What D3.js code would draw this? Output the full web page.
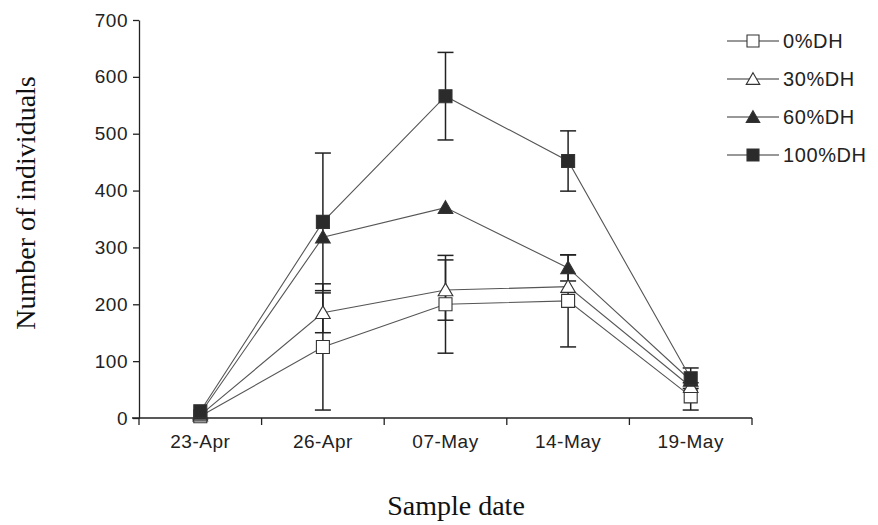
<!DOCTYPE html>
<html>
<head>
<meta charset="utf-8">
<script src="https://cdn.jsdelivr.net/npm/d3@7"></script>
<style>
  body { margin: 0; background: #fff; }
  svg { display: block; }
</style>
</head>
<body>
<div id="chart"></div>
<script>
// sample dates and values
const dates = ["23-Apr", "26-Apr", "07-May", "14-May", "19-May"];
const yTicks = [0, 100, 200, 300, 400, 500, 600, 700];
const seriesNames = ["0%DH", "30%DH", "60%DH", "100%DH"];

const dh0   = [3, 125, 200, 206, 38];
const dh30  = [5, 185, 225, 231, 55];
const dh60  = [8, 318, 370, 264, 66];
const dh100 = [12, 345, 566, 452, 70];

// error bar half-widths (0 = none visible)
const err0   = [0, 111, 86, 81, 24];
const err30  = [0, 35, 53, 0, 0];
const err60  = [0, 0, 0, 23, 0];
const err100 = [0, 121, 77, 53, 18];

const W = 878, H = 525;
const margin = {top: 20, right: 126, bottom: 107, left: 139};
const width = W - margin.left - margin.right,
      height = H - margin.top - margin.bottom;

const svg = d3.select("#chart")
  .append("svg")
    .attr("width", W)
    .attr("height", H)
  .append("g")
    .attr("transform", `translate(${margin.left},${margin.top})`);

const x = d3.scaleBand()
  .domain(dates)
  .range([0, width]);

const y = d3.scaleLinear()
  .domain([0, 700])
  .range([height, 0]);

const cx = d => x(d) + x.bandwidth() / 2;

// axes
const xAxis = svg.append("g")
  .attr("transform", `translate(0,${height})`)
  .call(d3.axisBottom(x).tickSize(0).tickPadding(17));
xAxis.select(".domain").remove();
xAxis.append("line")
  .attr("x1", -7).attr("x2", width)
  .attr("stroke", "#222").attr("stroke-width", 1.3);
// tick marks sit on the band boundaries
xAxis.selectAll(".bnd")
  .data(d3.range(dates.length + 1))
  .join("line")
    .attr("x1", i => i * x.step()).attr("x2", i => i * x.step())
    .attr("y1", 0).attr("y2", 7)
    .attr("stroke", "#222").attr("stroke-width", 1.3);

const yAxis = svg.append("g")
  .call(d3.axisLeft(y).tickValues(yTicks).tickSize(6).tickPadding(5).tickSizeOuter(0));
yAxis.select(".domain").attr("stroke", "#222").attr("stroke-width", 1.3);
yAxis.selectAll(".tick line").attr("stroke", "#222").attr("stroke-width", 1.3);

svg.selectAll(".tick text")
  .attr("fill", "#222")
  .style("font-family", "Liberation Sans, Arial, sans-serif")
  .style("font-size", "19px")
  .style("letter-spacing", "0.5px");

// axis titles
svg.append("text")
  .attr("x", 456 - margin.left)
  .attr("y", 515 - margin.top)
  .attr("text-anchor", "middle")
  .style("font-family", "Liberation Serif, Times New Roman, serif")
  .style("font-size", "28px")
  .attr("fill", "#111")
  .text("Sample date");

svg.append("text")
  .attr("transform", `translate(${35 - margin.left},${203 - margin.top}) rotate(-90)`)
  .attr("text-anchor", "middle")
  .style("font-family", "Liberation Serif, Times New Roman, serif")
  .style("font-size", "28px")
  .attr("fill", "#111")
  .text("Number of individuals");

const series = [
  {name: seriesNames[0], values: dh0,   err: err0,   shape: "square",   fill: "#fff"},
  {name: seriesNames[1], values: dh30,  err: err30,  shape: "triangle", fill: "#fff"},
  {name: seriesNames[2], values: dh60,  err: err60,  shape: "triangle", fill: "#2b2b2b"},
  {name: seriesNames[3], values: dh100, err: err100, shape: "square",   fill: "#2b2b2b"}
];

// error bars
series.forEach(s => {
  const bars = dates.map((d, i) => ({d: d, v: s.values[i], e: s.err[i]})).filter(b => b.e > 0);
  const g = svg.append("g").attr("stroke", "#222").attr("stroke-width", 1.5);
  bars.forEach(b => {
    const px = cx(b.d);
    g.append("line").attr("x1", px).attr("x2", px)
      .attr("y1", y(b.v - b.e)).attr("y2", y(b.v + b.e));
    [b.v - b.e, b.v + b.e].forEach(v => {
      g.append("line").attr("x1", px - 8).attr("x2", px + 8)
        .attr("y1", y(v)).attr("y2", y(v));
    });
  });
});

// series lines
const line = d3.line()
  .x((v, i) => cx(dates[i]))
  .y(v => y(v));

series.forEach(s => {
  svg.append("path")
    .datum(s.values)
    .attr("fill", "none")
    .attr("stroke", "#555")
    .attr("stroke-width", 1.1)
    .attr("d", line);
});

function marker(g, shape, fill, size) {
  const sym = shape === "square" ? d3.symbolSquare : d3.symbolTriangle;
  const area = shape === "square" ? size * size : size * size * 0.55;
  return g.append("path")
    .attr("d", d3.symbol().type(sym).size(area)())
    .attr("fill", fill)
    .attr("stroke", "#333")
    .attr("stroke-width", 1.1);
}

// markers
series.forEach(s => {
  s.values.forEach((v, i) => {
    const g = svg.append("g")
      .attr("transform", `translate(${cx(dates[i])},${y(v) + (s.shape === "triangle" ? 1.5 : 0)})`);
    marker(g, s.shape, s.fill, 13);
  });
});

// legend
const legend = svg.append("g")
  .attr("transform", `translate(${727 - margin.left},${41 - margin.top})`);

series.forEach((s, i) => {
  const row = legend.append("g").attr("transform", `translate(0,${i * 38})`);
  row.append("line")
    .attr("x1", 0).attr("x2", 52)
    .attr("stroke", "#333").attr("stroke-width", 1.1);
  const m = row.append("g").attr("transform", `translate(26,${s.shape === "triangle" ? 1.5 : 0})`);
  marker(m, s.shape, s.fill, 12);
  row.append("text")
    .attr("x", 56)
    .attr("dy", "0.35em")
    .attr("fill", "#222")
    .style("font-family", "Liberation Sans, Arial, sans-serif")
    .style("font-size", "20px")
    .style("letter-spacing", "0.6px")
    .text(s.name);
});
</script>
</body>
</html>
